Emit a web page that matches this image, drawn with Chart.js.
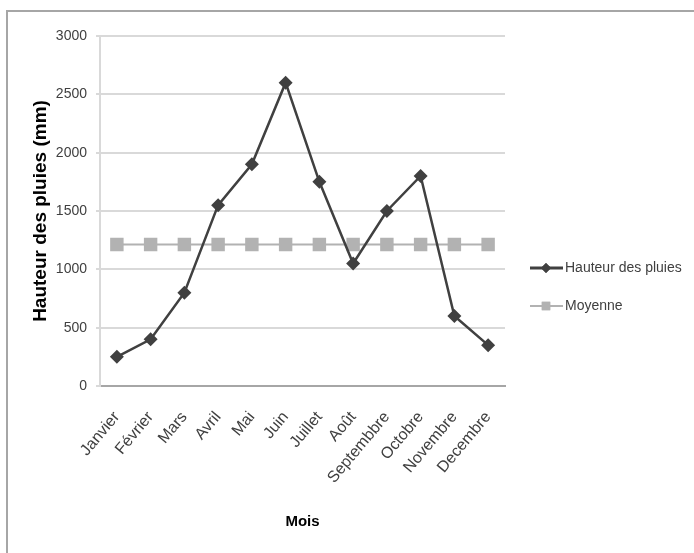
<!DOCTYPE html>
<html>
<head>
<meta charset="utf-8">
<script src="https://cdn.jsdelivr.net/npm/chart.js@4"></script>
<style>
  html, body { margin: 0; padding: 0; background: #fff; }
  #wrap { position: relative; width: 694px; height: 553px; }
  #frame { position: absolute; left: 6px; top: 10px; right: -4px; bottom: -4px;
           border-left: 2px solid #a6a6a6; border-top: 2px solid #a6a6a6; }
  canvas { position: absolute; left: 0; top: 0; }
</style>
</head>
<body>
<div id="wrap">
  <div id="frame"></div>
  <canvas id="pluies" width="694" height="553"></canvas>
</div>
<script>
// months and rainfall
const mois = ['Janvier', 'Février', 'Mars', 'Avril', 'Mai', 'Juin', 'Juillet', 'Août',
  'Septembbre', 'Octobre', 'Novembre', 'Decembre']
const hauteur = [250, 400, 800, 1550, 1900, 2600, 1750, 1050, 1500, 1800, 600, 350]
const moyenne = [1212.5, 1212.5, 1212.5, 1212.5, 1212.5, 1212.5, 1212.5, 1212.5, 1212.5, 1212.5, 1212.5, 1212.5]
const yTicks = [0, 500, 1000, 1500, 2000, 2500, 3000]

const font = '"Liberation Sans", Arial, sans-serif'
const dark = '#404040'
const light = '#b2b2b2'

// legend drawn by hand: a short line with the marker in the middle
const legendPlugin = {
  id: 'sideLegend',
  afterDraw(chart) {
    const ctx = chart.ctx
    const items = [
      { text: 'Hauteur des pluies', color: dark, y: 268, style: 'rectRot', r: 5, w: 3 },
      { text: 'Moyenne', color: light, y: 306, style: 'rect', r: 6, w: 2 }
    ]
    ctx.save()
    items.forEach(it => {
      ctx.strokeStyle = it.color
      ctx.lineWidth = it.w
      ctx.beginPath()
      ctx.moveTo(530, it.y)
      ctx.lineTo(563, it.y)
      ctx.stroke()
      ctx.fillStyle = it.color
      Chart.helpers.drawPoint(ctx, { pointStyle: it.style, radius: it.r, borderWidth: 0 }, 546, it.y)
      ctx.fill()
      ctx.fillStyle = dark
      ctx.font = '14px ' + font
      ctx.textBaseline = 'middle'
      ctx.fillText(it.text, 565, it.y)
    })
    ctx.restore()
  }
}

const data = {
  labels: mois,
  datasets: [{
    label: 'Hauteur des pluies',
    data: hauteur,
    borderColor: dark,
    backgroundColor: dark,
    borderWidth: 2.5,
    pointStyle: 'rectRot',
    pointRadius: 7,
    pointHoverRadius: 7,
    pointBorderWidth: 0,
    tension: 0,
    order: 1
  }, {
    label: 'Moyenne',
    data: moyenne,
    borderColor: light,
    backgroundColor: light,
    borderWidth: 2,
    pointStyle: 'rect',
    pointRadius: 9.5,
    pointHoverRadius: 9.5,
    pointBorderWidth: 0,
    tension: 0,
    order: 2
  }]
}

const config = {
  type: 'line',
  data: data,
  plugins: [legendPlugin],
  options: {
    responsive: false,
    animation: false,
    layout: { padding: { left: 29, top: 36, right: 189, bottom: 22 } },
    plugins: {
      legend: { display: false },
      tooltip: { enabled: false }
    },
    scales: {
      x: {
        offset: true,
        grid: { display: false, drawTicks: false },
        border: { display: true, color: '#a6a6a6', width: 2 },
        ticks: {
          color: dark,
          font: { family: font, size: 16 },
          minRotation: 50,
          maxRotation: 50,
          padding: 22,
          autoSkip: false
        },
        title: {
          display: true,
          text: 'Mois',
          color: '#000',
          font: { family: font, size: 15, weight: 'bold' },
          padding: { top: 4, bottom: 0 }
        },
        afterFit(scale) { scale.height = 145 }
      },
      y: {
        min: 0,
        max: 3000,
        afterBuildTicks(scale) { scale.ticks = yTicks.map(v => ({ value: v })) },
        grid: { color: '#d9d9d9', lineWidth: 2, tickLength: 4 },
        border: { display: true, color: '#d9d9d9', width: 2 },
        ticks: {
          color: dark,
          font: { family: font, size: 14 },
          padding: 9,
          callback: v => String(v)
        },
        title: {
          display: true,
          text: 'Hauteur des pluies (mm)',
          color: '#000',
          font: { family: font, size: 19, weight: 'bold' },
          padding: { top: 0, bottom: 4 }
        },
        afterFit(scale) { scale.width = 71 }
      }
    }
  }
}

const myChart = new Chart(document.getElementById('pluies'), config)
</script>
</body>
</html>
